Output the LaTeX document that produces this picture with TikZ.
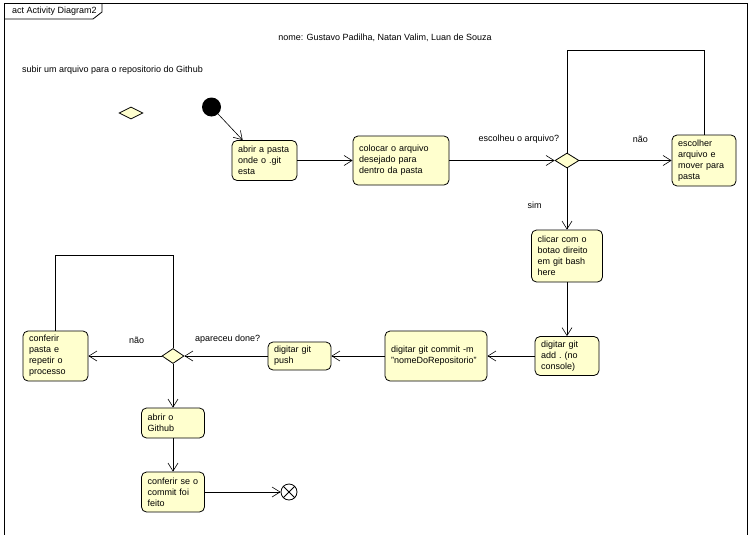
\documentclass[tikz,border=0pt]{standalone}
\usepackage{fontspec}
\setmainfont{Liberation Sans}
\usetikzlibrary{shapes.geometric,arrows.meta}
\definecolor{amareloAcao}{RGB}{255,255,206}

\begin{document}
\begin{tikzpicture}[x=1pt,y=-1pt]
        \tikzset{acao/.style={draw, rounded corners=5pt, fill=amareloAcao, line width=0.8pt,
                align=left, inner xsep=6pt, inner ysep=0pt, font=\fontsize{9}{11}\selectfont},
            decisao/.style={draw, diamond, fill=amareloAcao, line width=0.8pt, inner sep=0pt,
                minimum width=24pt, minimum height=15pt},
            fluxo/.style={draw, line width=0.6pt, -{Straight Barb[length=8pt,width=10pt]}},
            laco/.style={draw, line width=0.6pt},
            rotulo/.style={inner sep=0pt, font=\fontsize{9}{11}\selectfont}}
        \useasboundingbox (0,0) rectangle (749,535);
        \draw[line width=1pt] (4,535) -- (4,4) -- (747,4) -- (747,535);
        \draw[line width=0.8pt] (4,19) -- (93,19) -- (102,12) -- (102,4);
        \node[rotulo, anchor=west] (titulo) at (12,11) {act Activity Diagram2};
        \node[rotulo] (nomes) at (385,38) {nome: Gustavo Padilha, Natan Valim, Luan de Souza};
        \node[rotulo, anchor=west] (tarefa) at (22,70) {subir um arquivo para o repositorio do Github};
        \node[decisao, minimum height=12pt] (decisaoSolta) at (131,113) {};
        \node[circle, fill=black, minimum size=19pt, inner sep=0pt] (inicio) at (211.5,107) {};
        \node[acao, text width=53pt, minimum height=40pt] (abrirPasta) at (264.5,160.5)
            {abrir a pasta\\onde o .git\\esta};
        \node[acao, text width=84pt, minimum height=49pt] (colocarArquivo) at (401,160.5)
            {colocar o arquivo\\desejado para\\dentro da pasta};
        \node[decisao] (decisaoArquivo) at (567,160.5) {};
        \node[acao, text width=52pt, minimum height=51pt] (escolherArquivo) at (704,160.5)
            {escolher\\arquivo e\\mover para\\pasta};
        \node[acao, text width=59pt, minimum height=52pt] (clicarBotao) at (567,256)
            {clicar com o\\botao direito\\em git bash\\here};
        \node[acao, text width=52pt, minimum height=39pt] (gitAdd) at (567,356)
            {digitar git\\add .\ (no\\console)};
        \node[acao, text width=90pt, minimum height=50pt] (gitCommit) at (436,356)
            {digitar git commit -m\\"nomeDoRepositorio"};
        \node[acao, text width=51pt, minimum height=28pt] (gitPush) at (299.5,356)
            {digitar git\\push};
        \node[decisao, minimum width=22pt] (decisaoDone) at (173,356) {};
        \node[acao, text width=53pt, minimum height=50pt] (conferirPasta) at (55.5,356)
            {conferir\\pasta e\\repetir o\\processo};
        \node[acao, text width=51pt, minimum height=30pt] (abrirGithub) at (173,423)
            {abrir o\\Github};
        \node[acao, text width=51pt, minimum height=40pt] (conferirCommit) at (173,492)
            {conferir se o\\commit foi\\feito};
        \node[circle, draw, line width=0.8pt, minimum size=16pt, inner sep=0pt] (fim) at (289,492) {};
        \draw[line width=0.8pt] (fim.north west) -- (fim.south east) (fim.north east) -- (fim.south west);
        \coordinate (lacoArquivo) at (567,50);
        \coordinate (lacoDone) at (173,255);
        \draw[fluxo] (inicio) -- (abrirPasta.137);
        \draw[fluxo] (abrirPasta) -- (colocarArquivo);
        \draw[fluxo] (colocarArquivo) -- node[rotulo, pos=0.66, above=17pt] (rotuloEscolheu) {escolheu o arquivo?} (decisaoArquivo);
        \draw[fluxo] (decisaoArquivo) -- node[rotulo, pos=0.66, above=18pt] (rotuloNaoArquivo) {não} (escolherArquivo);
        \draw[laco] (escolherArquivo.north) |- (lacoArquivo) -- (decisaoArquivo.north);
        \draw[fluxo] (decisaoArquivo) -- node[rotulo, pos=0.61, left=25pt] (rotuloSim) {sim} (clicarBotao);
        \draw[fluxo] (clicarBotao) -- (gitAdd);
        \draw[fluxo] (gitAdd) -- (gitCommit);
        \draw[fluxo] (gitCommit) -- (gitPush);
        \draw[fluxo] (gitPush) -- node[rotulo, pos=0.48, above=12pt] (rotuloDone) {apareceu done?} (decisaoDone);
        \draw[fluxo] (decisaoDone) -- node[rotulo, pos=0.34, above=12pt] (rotuloNaoDone) {não} (conferirPasta);
        \draw[laco] (conferirPasta.north) |- (lacoDone) -- (decisaoDone.north);
        \draw[fluxo] (decisaoDone) -- (abrirGithub);
        \draw[fluxo] (abrirGithub) -- (conferirCommit);
        \draw[fluxo] (conferirCommit) -- (fim);
    \end{tikzpicture}
\end{document}
